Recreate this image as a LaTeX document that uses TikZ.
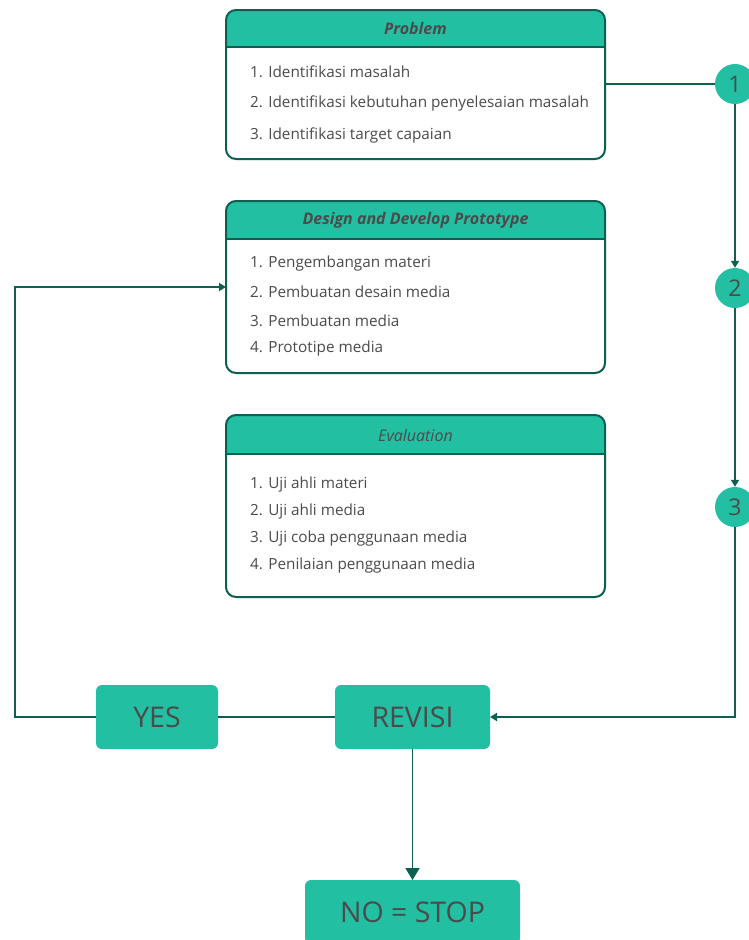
\documentclass[tikz,border=0pt]{standalone}
\usepackage{fontspec}
\setmainfont{Open Sans}
\usetikzlibrary{arrows.meta}

\definecolor{stagefill}{RGB}{34,191,163}
\definecolor{stageline}{RGB}{12,96,82}
\definecolor{stagetext}{RGB}{75,75,75}

\tikzset{
    panel/.style={minimum width=379pt, inner sep=0pt, outer sep=0pt},
    frame/.style={stageline, line width=2pt},
    headtxt/.style={text=stagetext, font=\fontsize{16}{18}\selectfont\bfseries\itshape},
    item/.style={anchor=west, text=stagetext, inner sep=0pt, font=\fontsize{15.3}{17}\selectfont},
    stagedot/.style={circle, fill=stagefill, minimum size=40pt, inner sep=0pt, text=stagetext, font=\fontsize{23}{25}\selectfont},
    choice/.style={rounded corners=6pt, fill=stagefill, minimum height=64pt, inner sep=0pt, outer sep=0pt, text=stagetext, font=\fontsize{28.5}{32}\selectfont},
    link/.style={stageline, line width=1.8pt},
    arr/.style={-{Triangle[width=8pt, length=7pt]}}
}

\begin{document}
\begin{tikzpicture}[x=1pt, y=-1pt]
    % Page
    \useasboundingbox (0,0) rectangle (749,940);
    \clip (0,0) rectangle (749,940);
    \fill[white] (0,0) rectangle (749,940);

    % Problem
    \node[panel, minimum height=149pt] (problem) at (415.5,84.5) {};
    \begin{scope}
        \clip[rounded corners=10pt] (problem.south west) rectangle (problem.north east);
        \fill[stagefill] (problem.north west) rectangle (problem.east |- 0,47);
    \end{scope}
    \draw[frame] (problem.west |- 0,47) -- (problem.east |- 0,47);
    \draw[frame, rounded corners=10pt] (problem.south west) rectangle (problem.north east);
    \node[headtxt] at (problem.north |- 0,28) {Problem};
    \node[item] at (250,72) {1. Identifikasi masalah};
    \node[item] at (250,103) {2. Identifikasi kebutuhan penyelesaian masalah};
    \node[item] at (250,135) {3. Identifikasi target capaian};

    % Design and Develop Prototype
    \node[panel, minimum height=172pt] (design) at (415.5,287) {};
    \begin{scope}
        \clip[rounded corners=10pt] (design.south west) rectangle (design.north east);
        \fill[stagefill] (design.north west) rectangle (design.east |- 0,239);
    \end{scope}
    \draw[frame] (design.west |- 0,239) -- (design.east |- 0,239);
    \draw[frame, rounded corners=10pt] (design.south west) rectangle (design.north east);
    \node[headtxt] at (design.north |- 0,220) {Design and Develop Prototype};
    \node[item] at (250,264) {1. Pengembangan materi};
    \node[item] at (250,292) {2. Pembuatan desain media};
    \node[item] at (250,321) {3. Pembuatan media};
    \node[item] at (250,349) {4. Prototipe media};

    % Evaluation
    \node[panel, minimum height=182pt] (evaluation) at (415.5,506) {};
    \begin{scope}
        \clip[rounded corners=10pt] (evaluation.south west) rectangle (evaluation.north east);
        \fill[stagefill] (evaluation.north west) rectangle (evaluation.east |- 0,454);
    \end{scope}
    \draw[frame] (evaluation.west |- 0,454) -- (evaluation.east |- 0,454);
    \draw[frame, rounded corners=10pt] (evaluation.south west) rectangle (evaluation.north east);
    \node[headtxt, font=\fontsize{16}{18}\selectfont\itshape] at (evaluation.north |- 0,435) {Evaluation};
    \node[item] at (250,485) {1. Uji ahli materi};
    \node[item] at (250,512) {2. Uji ahli media};
    \node[item] at (250,539) {3. Uji coba penggunaan media};
    \node[item] at (250,566) {4. Penilaian penggunaan media};

    % Stages
    \node[stagedot] (s1) at (735,84) {1};
    \node[stagedot] (s2) at (735,288) {2};
    \node[stagedot] (s3) at (735,507) {3};

    % Decisions
    \node[choice, minimum width=155pt] (revisi) at (412.5,717) {REVISI};
    \node[choice, minimum width=122pt] (yes) at (157,717) {YES};
    \node[choice, minimum width=215pt] (nostop) at (412.5,912) {NO = STOP};
    \coordinate (loopcorner) at (15,717);

    % Connectors
    \draw[link] (problem.east |- s1) -- (s1);
    \draw[link, arr] (s1) -- (s2);
    \draw[link, arr] (s2) -- (s3);
    \draw[link, arr] (s3) |- (revisi);
    \draw[link] (revisi) -- (yes);
    \draw[link, arr] (yes) -- (loopcorner) |- (design.west);
    \draw[link, -{Triangle[width=14pt, length=12pt]}] (revisi) -- (nostop);
\end{tikzpicture}
\end{document}
